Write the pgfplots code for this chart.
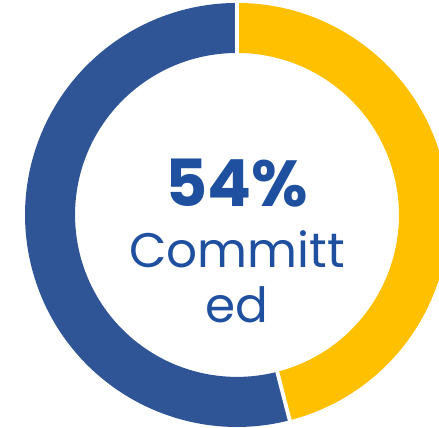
\documentclass[border=0pt]{standalone}
\usepackage{pgfplots}
\usepackage{pgfplotstable}
\pgfplotsset{compat=1.18}
\usepackage{fontspec}
\setmainfont{Poppins}

\definecolor{ringblue}{HTML}{2F5597}
\definecolor{ringyellow}{HTML}{FFC000}
\definecolor{textblue}{HTML}{1F50A0}

% share of the ring, in percent
\pgfplotstableread{
label      value
Committed  54
Other      46
}\donutdata

\begin{document}
\begin{tikzpicture}
\pgfplotstablegetelem{0}{value}\of\donutdata \let\vcommit\pgfplotsretval
\pgfplotstablegetelem{1}{value}\of\donutdata \let\vother\pgfplotsretval
% yellow runs clockwise from 12 o'clock, blue takes the rest
\pgfmathsetmacro{\asplit}{90-3.6*\vother}
\pgfmathsetmacro{\afull}{90-3.6*(\vother+\vcommit)}
\def\Ro{1}
\def\Ri{0.764}
\begin{axis}[
    width=4.39cm, height=4.28cm, scale only axis,
    hide axis, clip=true,
    xmin=-1.118, xmax=0.953,
    ymin=-1.005, ymax=1.014,
]
    % yellow segment
    \fill[ringyellow] (axis cs:{\Ro*cos(90)},{\Ro*sin(90)})
        arc[start angle=90, end angle=\asplit, radius=\Ro]
        -- (axis cs:{\Ri*cos(\asplit)},{\Ri*sin(\asplit)})
        arc[start angle=\asplit, end angle=90, radius=\Ri] -- cycle;
    % blue segment
    \fill[ringblue] (axis cs:{\Ro*cos(\asplit)},{\Ro*sin(\asplit)})
        arc[start angle=\asplit, end angle=\afull, radius=\Ro]
        -- (axis cs:{\Ri*cos(\afull)},{\Ri*sin(\afull)})
        arc[start angle=\afull, end angle=\asplit, radius=\Ri] -- cycle;
    % white gaps between segments
    \draw[white, line width=1.1pt]
        (axis cs:{0.74*cos(90)},{0.74*sin(90)}) -- (axis cs:{1.02*cos(90)},{1.02*sin(90)});
    \draw[white, line width=1.1pt]
        (axis cs:{0.74*cos(\asplit)},{0.74*sin(\asplit)}) -- (axis cs:{1.02*cos(\asplit)},{1.02*sin(\asplit)});
    % centre label
    \node[anchor=base, text=textblue, font=\fontsize{18.5}{19}\selectfont\bfseries]
        at (axis cs:0,0.038) {\vcommit\%};
    \node[anchor=base, text=textblue, font=\fontsize{13.8}{14}\selectfont]
        at (axis cs:0,-0.25) {Committ};
    \node[anchor=base, text=textblue, font=\fontsize{13.8}{14}\selectfont]
        at (axis cs:0,-0.509) {ed};
\end{axis}
\pgfresetboundingbox
\useasboundingbox (current axis.south west) rectangle (current axis.north east);
\end{tikzpicture}
\end{document}
